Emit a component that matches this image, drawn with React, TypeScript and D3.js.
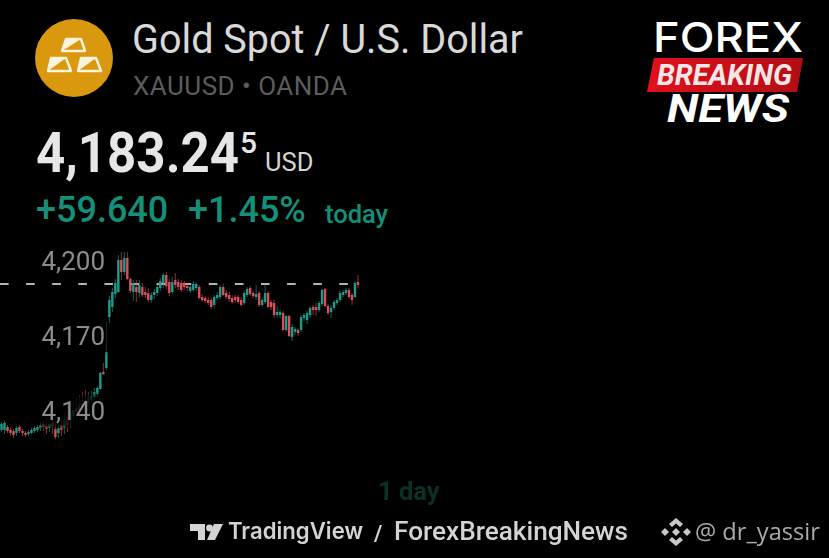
import * as d3 from "d3";

// XAUUSD intraday candles, oldest first
const opens = [4132.4,4132.4,4133.6,4132.4,4132.0,4131.2,4133.6,4132.0,4131.2,4130.8,4131.2,4132.0,4132.4,4133.2,4134.8,4134.0,4133.2,4135.6,4132.8,4131.2,4134.4,4133.2,4137.6,4136.4,4138.0,4141.2,4140.4,4143.2,4144.4,4143.2,4144.4,4145.6,4146.8,4148.8,4155.6,4157.2,4177.6,4181.6,4186.8,4187.6,4200.4,4195.6,4201.2,4192.8,4187.6,4189.6,4187.2,4189.6,4187.6,4187.2,4184.4,4186.4,4187.2,4189.2,4191.2,4194.4,4191.6,4187.6,4192.4,4191.6,4191.2,4191.2,4190.0,4188.0,4188.4,4189.2,4189.6,4185.6,4185.2,4184.4,4184.4,4182.4,4185.2,4185.6,4189.6,4187.2,4186.4,4185.2,4185.6,4185.6,4184.4,4183.2,4186.4,4189.2,4187.2,4185.6,4187.2,4182.4,4183.6,4187.2,4183.6,4183.2,4178.4,4178.4,4179.2,4172.4,4178.0,4169.6,4171.6,4172.4,4172.4,4177.2,4176.4,4178.4,4181.6,4181.6,4180.4,4182.8,4188.8,4182.0,4179.6,4181.2,4183.2,4184.4,4186.4,4187.2,4188.4,4186.4,4185.6,4191.6];
const closes = [4134.8,4135.2,4132.0,4131.2,4130.4,4133.2,4132.0,4131.2,4130.4,4131.6,4132.4,4133.2,4133.6,4134.4,4133.6,4132.8,4134.8,4134.0,4129.6,4133.2,4132.4,4136.4,4134.4,4139.6,4140.4,4139.6,4142.4,4141.2,4142.4,4145.2,4146.0,4147.6,4149.2,4155.2,4154.8,4163.6,4184.4,4187.6,4191.2,4200.4,4195.6,4201.2,4192.8,4188.0,4191.2,4187.6,4190.4,4186.4,4186.4,4184.4,4186.4,4187.6,4189.6,4192.0,4194.4,4190.0,4187.2,4191.6,4190.4,4189.6,4188.4,4189.6,4189.2,4189.6,4190.8,4190.8,4185.2,4184.4,4184.0,4183.2,4181.6,4185.6,4186.4,4189.6,4186.4,4185.6,4184.8,4183.6,4184.4,4183.6,4182.4,4187.2,4188.8,4186.8,4186.0,4186.8,4182.4,4184.4,4187.2,4181.6,4181.6,4178.4,4179.6,4179.6,4172.4,4178.0,4170.0,4173.6,4172.8,4171.2,4177.6,4178.4,4179.2,4181.2,4180.4,4180.4,4183.2,4188.4,4182.0,4179.2,4181.2,4183.6,4184.4,4187.2,4187.6,4188.4,4185.6,4184.4,4191.2,4190.4];
const highs = [4135.6,4136.0,4134.4,4133.2,4132.8,4134.0,4134.4,4132.8,4132.0,4132.4,4133.2,4134.0,4134.4,4135.2,4136.0,4137.2,4136.4,4138.4,4136.0,4134.8,4137.2,4139.2,4142.4,4143.2,4143.6,4145.2,4146.4,4147.6,4148.4,4147.6,4148.0,4149.2,4150.0,4155.6,4159.2,4175.6,4186.0,4189.2,4192.8,4202.4,4203.6,4203.6,4203.6,4193.6,4192.4,4192.4,4192.4,4191.2,4189.6,4189.2,4187.6,4188.8,4190.4,4193.2,4195.2,4195.6,4192.8,4193.6,4195.2,4192.8,4192.4,4192.0,4191.2,4190.8,4192.0,4191.6,4190.4,4186.8,4186.0,4185.6,4185.2,4186.4,4187.6,4190.4,4190.8,4188.4,4187.6,4186.4,4186.4,4186.4,4185.6,4188.0,4189.6,4190.0,4188.0,4190.4,4188.0,4185.2,4190.4,4188.0,4184.4,4184.4,4182.0,4180.4,4180.0,4178.4,4178.4,4174.8,4173.6,4173.2,4178.4,4179.2,4180.0,4182.0,4182.4,4183.2,4184.0,4188.8,4189.2,4182.8,4182.4,4184.4,4185.2,4188.0,4188.4,4189.2,4189.2,4187.2,4192.0,4194.4];
const lows = [4131.6,4130.8,4131.2,4130.0,4129.2,4130.0,4131.2,4130.0,4129.6,4130.0,4130.8,4131.2,4131.6,4132.0,4132.0,4130.8,4131.6,4130.8,4128.8,4129.2,4130.0,4130.8,4131.6,4133.2,4136.4,4137.2,4138.8,4139.6,4139.2,4141.2,4142.8,4144.4,4145.6,4148.4,4154.4,4156.4,4175.2,4179.6,4185.2,4187.2,4192.4,4194.4,4192.4,4187.2,4184.0,4183.6,4185.2,4185.6,4185.2,4183.6,4183.2,4184.8,4186.0,4188.0,4189.2,4188.8,4186.0,4186.8,4189.2,4188.4,4187.6,4188.4,4188.0,4187.2,4187.6,4188.0,4184.8,4183.6,4183.2,4182.4,4180.8,4181.2,4184.4,4184.8,4186.0,4184.8,4183.6,4182.8,4183.2,4182.8,4182.0,4182.4,4185.6,4186.0,4185.2,4184.4,4181.6,4181.6,4182.8,4181.2,4180.4,4177.2,4177.2,4177.2,4172.0,4171.6,4169.6,4168.0,4170.4,4170.0,4171.6,4176.0,4174.8,4177.2,4178.4,4178.0,4179.6,4182.0,4181.6,4178.4,4177.2,4180.4,4182.4,4183.6,4185.6,4186.4,4184.8,4182.4,4185.2,4189.2];
const yTicks = [4200, 4170, 4140];
const dashLevel = 4190.8;

const UP = "#1f9c88";
const DOWN = "#d9505a";
const FONT = "Roboto, sans-serif";

const x = d3.scaleLinear().domain([0, opens.length - 1]).range([1.5, 358]);
const y = d3.scaleLinear().domain([4140, 4200]).range([411, 261]);
const tickFmt = d3.format(",");

export default function App() {
  return (
    <div style={{ position: "fixed", inset: 0, background: "#000" }}>
      <svg width={829} height={558} style={{ display: "block" }} fontFamily={FONT}>
        <defs>
          <filter id="soft" x="-5%" y="-5%" width="110%" height="110%"><feGaussianBlur stdDeviation="0.5" /></filter>
          <filter id="fade" x="-20%" y="-20%" width="140%" height="140%"><feGaussianBlur stdDeviation="2" /></filter>
          <linearGradient id="band" x1="0" x2="1" y1="0" y2="0">
            <stop offset="0" stopColor="#e0101c" />
            <stop offset="1" stopColor="#b20d14" />
          </linearGradient>
        </defs>
        <rect width={829} height={558} fill="#000" />

        {/* header */}
        <circle cx={74} cy={58} r={39} fill="#d9980e" />
        <g fill="none" stroke="#fbf3dc" strokeWidth={2.4} strokeLinejoin="round">
          <path d="M66 39h15l4 12H62z" />
          <path d="M51 58h15l5 13H48z" />
          <path d="M81 58h15l5 13H78z" />
        </g>
        <g fill="#fbf3dc">
          <path d="M66 39h15l-19 12z" />
          <path d="M51 58h15l-18 13z" />
          <path d="M81 58h15l-18 13z" />
        </g>
        <text x={132} y={53} fontSize={41.5} fill="#d9d9d9" textLength={391} lengthAdjust="spacingAndGlyphs">Gold Spot / U.S. Dollar</text>
        <text x={133} y={95} fontSize={26} fill="#5c5c5c" textLength={214} lengthAdjust="spacing">XAUUSD • OANDA</text>
        <text x={36} y={172} fontSize={55} fontWeight={700} fill="#e6e6e6" textLength={203} lengthAdjust="spacingAndGlyphs">4,183.24</text>
        <text x={240} y={153} fontSize={30} fontWeight={500} fill="#e6e6e6">5</text>
        <text x={265} y={171} fontSize={25.5} fill="#d4d4d4">USD</text>
        <text x={36} y={222} fontSize={36} fontWeight={500} fill="#14907a">+59.640</text>
        <text x={188} y={222} fontSize={36} fontWeight={500} fill="#14907a">+1.45%</text>
        <text x={325} y={223} fontSize={25.5} fontWeight={500} fill="#14907a">today</text>

        {/* brand mark */}
        <text x={653} y={52} fontSize={41} fontWeight={500} fontFamily="Inter, sans-serif" fill="#fff" textLength={150} lengthAdjust="spacingAndGlyphs">FOREX</text>
        <polygon points="654,58 803,58 797,92 647,92" fill="url(#band)" />
        <text x={657} y={85} fontSize={29} fontWeight={700} fontStyle="italic" fill="#f4e6e6" textLength={135} lengthAdjust="spacingAndGlyphs">BREAKING</text>
        <text x={667} y={122} fontSize={39} fontWeight={700} fontStyle="italic" fill="#fff" textLength={122} lengthAdjust="spacingAndGlyphs">NEWS</text>

        {/* chart */}
        <g filter="url(#soft)">
          <line x1={0} x2={350} y1={y(dashLevel)} y2={y(dashLevel)} stroke="#b4b4b4" strokeWidth={1.9} strokeDasharray="8.6 17.5" />
          {opens.map((o, i) => {
            const c = closes[i];
            const col = c >= o ? UP : DOWN;
            const top = y(Math.max(o, c));
            const bot = y(Math.min(o, c));
            return (
              <g key={i}>
                <line x1={x(i)} x2={x(i)} y1={y(highs[i])} y2={y(lows[i])} stroke={col} strokeWidth={0.9} opacity={0.7} />
                <rect x={x(i) - 1.2} width={2.4} y={top} height={Math.max(1, bot - top)} fill={col} />
              </g>
            );
          })}
        </g>
        {yTicks.map((t) => (
          <g key={t}>
            <rect x={40} width={67} y={y(t) - 16} height={32} fill="#000" opacity={0.78} filter="url(#fade)" />
            <text x={105} y={y(t) + 8.5} textAnchor="end" fontSize={26} fill="#8c8c8c">{tickFmt(t)}</text>
          </g>
        ))}
        <text x={378} y={500} fontSize={25.5} fontWeight={700} fill="#0c3027">1 day</text>

        {/* footer */}
        <g fill="#d4d4d4">
          <path d="M190 524h15v16h-7v-9h-8z" />
          <circle cx={209.5} cy={528} r={3.4} />
          <path d="M214 524h9l-8 16h-8z" />
        </g>
        <text x={228} y={539} fontSize={22.5} fontWeight={600} fontFamily="Inter, sans-serif" fill="#d4d4d4" textLength={135} lengthAdjust="spacingAndGlyphs">TradingView</text>
        <text x={374} y={541} fontSize={22} fontWeight={600} fill="#d4d4d4">/</text>
        <text x={394} y={540} fontSize={26} fontWeight={500} fill="#d4d4d4" textLength={234} lengthAdjust="spacingAndGlyphs">ForexBreakingNews</text>
        <g fill="#c8c8c8">
          <path d="M676 518l7 6-3 3-4-3.500-4 3.500-3-3z" />
          <path d="M676 546l7-6-3-3-4 3.500-4-3.500-3 3z" />
          <path d="M676 528l4 4-4 4-4-4z" />
          <path d="M665 528l4 4-4 4-4-4z" />
          <path d="M687 528l4 4-4 4-4-4z" />
        </g>
        <text x={695} y={540} fontSize={24.5} fontFamily="'Open Sans', sans-serif" fill="#ababab" textLength={125} lengthAdjust="spacingAndGlyphs">@ dr_yassir</text>
      </svg>
    </div>
  );
}
